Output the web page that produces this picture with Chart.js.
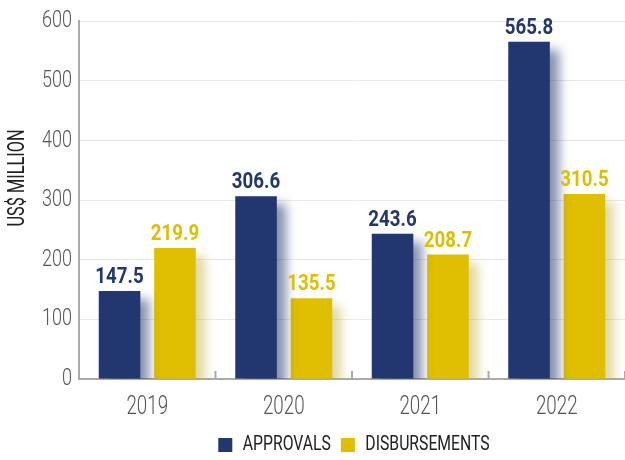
<!DOCTYPE html>
<html>
<head>
<meta charset="utf-8">
<script src="https://cdn.jsdelivr.net/npm/chart.js@4/dist/chart.umd.min.js"></script>
<style>
html,body{margin:0;padding:0;background:#fff;}
#wrap{width:625px;height:460px;position:relative;}
</style>
</head>
<body>
<div id="wrap"><canvas id="c" width="625" height="460"></canvas></div>
<script>
const categories = ['2019', '2020', '2021', '2022'];
const approvals = [147.5, 306.6, 243.6, 565.8];
const disbursements = [219.9, 135.5, 208.7, 310.5];
const seriesNames = ['APPROVALS', 'DISBURSEMENTS'];
const yTicks = [0, 100, 200, 300, 400, 500, 600];
const yTitle = 'US$ MILLION';

const NAVY = '#22366f';
const GOLD = '#e0bf02';
const FONT = "Roboto, 'DejaVu Sans Condensed', sans-serif";
const TEXT_SCALE = 0.75;

const canvas = document.getElementById('c');
const ctx0 = canvas.getContext('2d');
// horizontally condensed text rendering (no condensed face installed)
(function condense(ctx, k) {
  const origFill = ctx.fillText.bind(ctx);
  const origMeasure = ctx.measureText.bind(ctx);
  ctx._origFill = origFill;
  ctx.fillText = function (t, x, y, maxW) {
    ctx.save();
    ctx.translate(x, y);
    ctx.scale(k, 1);
    if (maxW !== undefined && maxW !== null) origFill(t, 0, 0, maxW / k);
    else origFill(t, 0, 0);
    ctx.restore();
  };
  ctx.measureText = function (t) {
    const m = origMeasure(t);
    return {
      width: m.width * k,
      actualBoundingBoxAscent: m.actualBoundingBoxAscent,
      actualBoundingBoxDescent: m.actualBoundingBoxDescent,
      actualBoundingBoxLeft: m.actualBoundingBoxLeft * k,
      actualBoundingBoxRight: m.actualBoundingBoxRight * k,
      fontBoundingBoxAscent: m.fontBoundingBoxAscent,
      fontBoundingBoxDescent: m.fontBoundingBoxDescent
    };
  };
})(ctx0, TEXT_SCALE);

function drawScaled(ctx, text, x, y, k) {
  ctx.save();
  ctx.translate(x, y);
  ctx.scale(k, 1);
  ctx._origFill(text, 0, 0);
  ctx.restore();
}

const shadowPlugin = {
  id: 'barShadow',
  beforeDatasetDraw(chart, args) {
    const ctx = chart.ctx;
    ctx.save();
    ctx.shadowColor = args.index === 0 ? 'rgba(34,54,111,0.55)' : 'rgba(190,170,40,0.45)';
    ctx.shadowBlur = 10;
    ctx.shadowOffsetX = 9;
    ctx.shadowOffsetY = 8;
  },
  afterDatasetDraw(chart) {
    chart.ctx.restore();
  }
};

const decorPlugin = {
  id: 'decor',
  afterLayout(chart) {
    const lg = chart.legend;
    if (lg) {
      const shift = 354 - (lg.left + lg.right) / 2;
      lg.left += shift;
      lg.right += shift;
    }
  },
  afterDatasetsDraw(chart) {
    const ctx = chart.ctx;
    ctx.save();
    ctx.font = 'bold 22px ' + FONT;
    ctx.textAlign = 'center';
    ctx.textBaseline = 'alphabetic';
    chart.data.datasets.forEach((ds, di) => {
      const meta = chart.getDatasetMeta(di);
      ctx.fillStyle = ds.backgroundColor;
      meta.data.forEach((el, i) => {
        drawScaled(ctx, ds.data[i].toFixed(1), el.x, el.y - 8, 0.85);
      });
    });
    ctx.restore();
  },
  afterDraw(chart) {
    const ctx = chart.ctx;
    const xs = chart.scales.x;
    const area = chart.chartArea;
    ctx.save();
    ctx.strokeStyle = '#aaaaaa';
    ctx.lineWidth = 2;
    const half = (xs.getPixelForValue(1) - xs.getPixelForValue(0)) / 2;
    for (let i = 0; i < categories.length; i++) {
      const bx = xs.getPixelForValue(i) + half;
      ctx.beginPath();
      ctx.moveTo(bx, area.bottom);
      ctx.lineTo(bx, area.bottom - 8);
      ctx.stroke();
    }
    ctx.translate(18, 178);
    ctx.rotate(-Math.PI / 2);
    ctx.font = '23px ' + FONT;
    ctx.fillStyle = '#222222';
    ctx.textAlign = 'center';
    ctx.textBaseline = 'middle';
    drawScaled(ctx, yTitle, 0, 0, 0.71);
    ctx.restore();
  }
};

new Chart(canvas, {
  type: 'bar',
  data: {
    labels: categories,
    datasets: [
      { label: seriesNames[0], data: approvals, backgroundColor: NAVY },
      { label: seriesNames[1], data: disbursements, backgroundColor: GOLD }
    ]
  },
  options: {
    responsive: false,
    animation: false,
    devicePixelRatio: 1,
    layout: { padding: { top: 16, right: -6, left: 0, bottom: -5.5 } },
    datasets: { bar: { categoryPercentage: 0.812, barPercentage: 0.75 } },
    scales: {
      x: {
        grid: { display: false, drawTicks: false },
        border: { color: '#aaaaaa', width: 2 },
        ticks: { color: '#555555', font: { family: FONT, size: 25, weight: 300 }, padding: 14 },
        afterFit(s) { s.height = 45.5; }
      },
      y: {
        min: 0, max: 600,
        afterBuildTicks(s) { s.ticks = yTicks.map(v => ({ value: v })); },
        grid: { color: '#e8e8e8', lineWidth: 1, drawTicks: false },
        border: { color: '#aaaaaa', width: 2 },
        ticks: { color: '#555555', font: { family: FONT, size: 24, weight: 300 }, padding: 7 },
        afterFit(s) { s.width = 79; }
      }
    },
    plugins: {
      legend: {
        position: 'bottom',
        labels: {
          color: '#222222',
          font: { family: FONT, size: 21 },
          boxWidth: 14, boxHeight: 14, padding: 10
        }
      },
      tooltip: { enabled: false }
    }
  },
  plugins: [shadowPlugin, decorPlugin]
});
</script>
</body>
</html>
